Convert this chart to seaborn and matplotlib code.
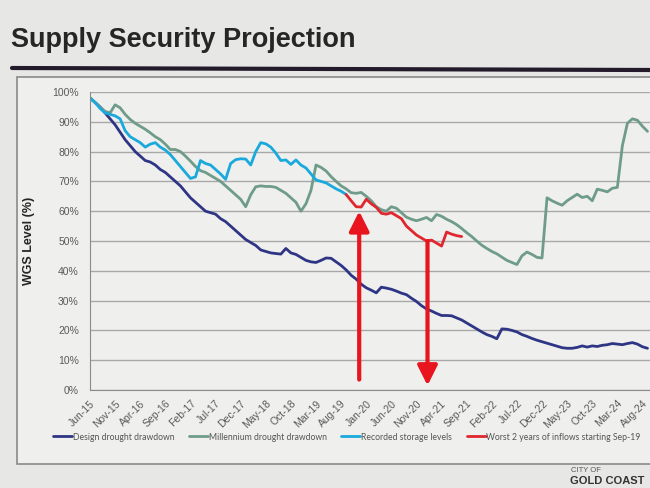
import pandas as pd
import numpy as np
import matplotlib
matplotlib.use("Agg")
import matplotlib.pyplot as plt
import seaborn as sns
from matplotlib.patches import Rectangle
from matplotlib.lines import Line2D

# monthly index: 0 = Jun-15
tick_labels = ["Jun-15", "Nov-15", "Apr-16", "Sep-16", "Feb-17", "Jul-17", "Dec-17", "May-18",
               "Oct-18", "Mar-19", "Aug-19", "Jan-20", "Jun-20", "Nov-20", "Apr-21", "Sep-21",
               "Feb-22", "Jul-22", "Dec-22", "May-23", "Oct-23", "Mar-24", "Aug-24"]
tick_months = list(range(0, 5 * len(tick_labels), 5))

# Design drought drawdown (%), months 0..111
design = [98, 96.5, 95, 93, 91, 89, 86.5, 84, 82, 80, 78.5, 77, 76.5, 75.5, 74, 73, 71.5, 70, 68.5, 66.5,
          64.5, 63, 61.5, 60, 59.5, 59, 57.5, 56.5, 55, 53.5, 52, 50.5, 49.5, 48.5, 47, 46.5, 46, 45.8, 45.6, 47.5,
          46, 45.5, 44.5, 43.5, 43, 42.8, 43.5, 44.3, 44.2, 43, 41.8, 40.3, 38.5, 37.2, 35.5, 34.3, 33.5, 32.6, 34.5, 34.2,
          33.8, 33.2, 32.5, 32, 30.8, 29.7, 28.3, 27.2, 26.5, 25.7, 25, 25, 24.9, 24.2, 23.5, 22.5, 21.5, 20.5, 19.5, 18.6,
          18, 17.2, 20.5, 20.4, 20, 19.5, 18.6, 18, 17.3, 16.7, 16.2, 15.7, 15.2, 14.7, 14.2, 14, 14, 14.3, 14.8, 14.4,
          14.8, 14.6, 15, 15.2, 15.6, 15.4, 15.2, 15.6, 15.9, 15.4, 14.5, 14]

# Millennium drought drawdown (%), months 0..111
millennium = [98, 96.5, 95, 93.5, 93, 95.7, 94.7, 92.5, 90.8, 89.5, 88.5, 87.5, 86.3, 85, 84, 82.5, 80.7, 80.7, 80, 78.5,
              76.8, 75, 73.6, 73, 72, 71, 70, 68.5, 67, 65.5, 64, 61.5, 65.5, 68.2, 68.5, 68.3, 68.3, 68, 67, 66,
              64.5, 63, 60, 62.5, 67, 75.5, 74.7, 73.5, 71.6, 70, 68.5, 67.5, 66.2, 66, 66.3, 65, 63.5, 61.5, 60.5, 60,
              61.5, 61, 59.5, 58, 57.3, 56.8, 57.3, 57.9, 56.8, 58.9, 58.3, 57.3, 56.5, 55.5, 54.2, 52.8, 51.5, 50, 48.6, 47.5,
              46.5, 45.7, 44.6, 43.5, 42.8, 42.1, 45, 46.3, 45.5, 44.5, 44.3, 64.5, 63.5, 62.7, 62, 63.5, 64.6, 65.7, 64.6, 65,
              63.5, 67.4, 67, 66.5, 67.7, 68, 82, 89.5, 91, 90.5, 88.5, 86.8]

# Recorded storage levels (%), months 0..51
recorded = [98, 96.5, 94.5, 93, 92.5, 92, 91, 87, 85, 84, 83, 81.5, 82.5, 83, 81.5, 80.5, 79, 77, 75, 73,
            71, 71.5, 77, 76, 75.5, 74, 72.5, 70.7, 76, 77.3, 77.6, 77.5, 75.5, 80, 83, 82.6, 81.5, 79.5, 77, 77.2,
            75.7, 77.2, 75.5, 74.5, 72.5, 70.5, 70, 69.5, 68.5, 67.5, 66.7, 65.6]

# Worst 2 years of inflows (%), months 51..74
worst_start = 51
worst = [65.6, 63.5, 61.5, 61.4, 64, 62.5, 61.3, 59.3, 59, 59.5, 58.5, 57.5, 55, 53.5, 52, 51, 50, 50.3, 49.3, 48.3,
         53, 52.3, 51.8, 51.5]

series_names = ["Design drought drawdown", "Millennium drought drawdown", "Recorded storage levels",
                "Worst 2 years of inflows starting Sep-19"]
colors = ["#2f3585", "#6f9c89", "#19a9dc", "#e0262e"]

# red arrows: (month, from %, to %)
arrow_up = (53.6, 3.5, 60)
arrow_down = (67.2, 50, 1.5)

frames = []
for name, vals, start in zip(series_names, [design, millennium, recorded, worst], [0, 0, 0, worst_start]):
    frames.append(pd.DataFrame({"month": np.arange(start, start + len(vals)), "level": vals, "series": name}))
df = pd.concat(frames, ignore_index=True)

sns.set_style("white")
plt.rcParams["font.family"] = ["Liberation Sans", "DejaVu Sans"]

fig = plt.figure(figsize=(6.5, 4.88), dpi=100)
fig.patch.set_facecolor("#e7e7e5")

# slide elements: title, rule, chart frame, logo
fig.text(11 / 650, 1 - 40 / 488, "Supply Security Projection", fontsize=19.5, fontweight="bold",
         color="#262626", va="center")
fig.add_artist(Line2D([12 / 650, 1.0], [1 - 68 / 488, 1 - 70 / 488], color="#231a2a", lw=3))
fig.add_artist(Rectangle((17 / 650, 1 - 464 / 488), 1.0, (464 - 77) / 488, facecolor="#efefed",
                         edgecolor="#8a8a8a", lw=1.2, zorder=0))
fig.text(571 / 650, 1 - 471 / 488, "CITY OF", fontsize=5.5, color="#555555", va="center")
fig.text(570 / 650, 1 - 476 / 488, "GOLD COAST", fontsize=8, fontweight="bold", color="#333333", va="top")

ax = fig.add_axes([90 / 650, 1 - 390 / 488, 1 - 90 / 650, (390 - 92) / 488])
ax.set_facecolor("none")

sns.lineplot(data=df, x="month", y="level", hue="series", hue_order=series_names,
             palette=colors, lw=2, ax=ax)
handles, labels = ax.get_legend_handles_labels()
ax.get_legend().remove()

for m, y0, y1 in [arrow_up, arrow_down]:
    ax.annotate("", xy=(m, y1), xytext=(m, y0),
                arrowprops=dict(arrowstyle="-|>,head_width=0.3,head_length=0.6", mutation_scale=20,
                                color="#e8141e", lw=3, shrinkA=0, shrinkB=0))

ax.set_xlim(0, 111.5)
ax.set_ylim(0, 100)
ax.set_yticks(range(0, 101, 10))
ax.set_yticklabels([f"{v}%" for v in range(0, 101, 10)])
ax.set_xticks(tick_months)
ax.set_xticklabels(tick_labels, rotation=45, ha="right", rotation_mode="anchor")
ax.tick_params(axis="both", labelsize=7.5, colors="#5a5a5a")
ax.tick_params(axis="x", length=4, width=0.8, color="#8a8a8a", pad=2)
ax.tick_params(axis="y", length=0, pad=8)
ax.grid(axis="y", color="#a8a8a8", lw=1)
for s in ["top", "right"]:
    ax.spines[s].set_visible(False)
for s in ["left", "bottom"]:
    ax.spines[s].set_color("#8a8a8a")
ax.set_xlabel("")
ax.set_ylabel("WGS Level (%)", fontsize=9, fontweight="bold", color="#262626")
ax.yaxis.set_label_coords(-55 / 560, 0.5)

leg = fig.legend(handles, labels, loc="center left", bbox_to_anchor=(45 / 650, 1 - 437 / 488), ncol=4,
                 frameon=False, handlelength=2.2, handletextpad=0.1, columnspacing=1.7,
                 prop={"family": "Lato", "size": 6.2})
for t in leg.get_texts():
    t.set_color("#555555")

fig.savefig("out.png", dpi=100, facecolor=fig.get_facecolor())
